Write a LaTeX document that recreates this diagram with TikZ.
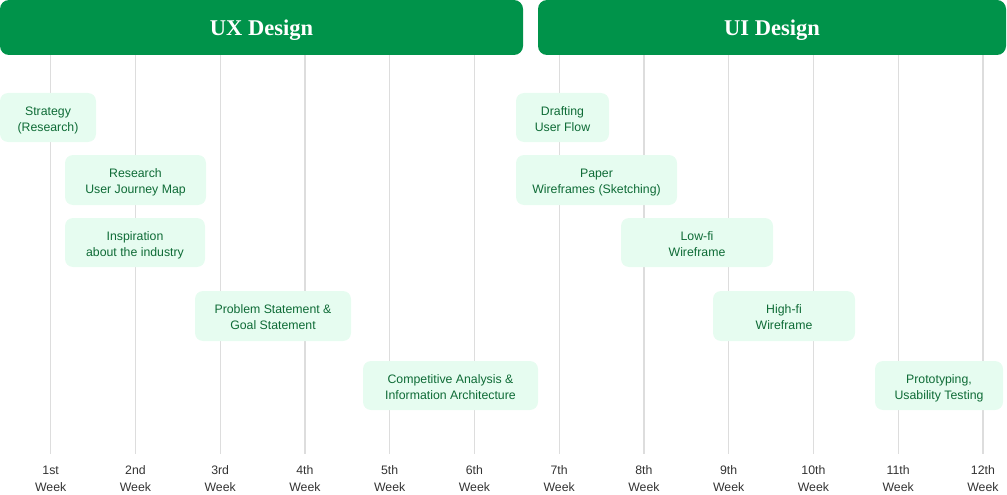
\documentclass[tikz,border=0pt]{standalone}
\usepackage{fontspec}
\setmainfont{Liberation Sans}
\newfontfamily\headfont{Liberation Serif}
\definecolor{hdrgreen}{HTML}{00934A}
\definecolor{boxfill}{HTML}{E6FCF0}
\definecolor{boxtext}{HTML}{0E6B36}
\definecolor{gridgrey}{HTML}{DDDDDD}
\definecolor{weektext}{HTML}{333333}
\newcommand{\tbtext}[1]{\raisebox{-2.5pt}[\height][\depth]{\begin{tabular}{@{}c@{}}#1\end{tabular}}}
\tikzset{
  header/.style={fill=hdrgreen, rounded corners=9pt, text=white, font=\headfont\bfseries\fontsize{22.5}{26}\selectfont, inner sep=0pt, text height=15.5pt, text depth=0pt},
  taskbox/.style={fill=boxfill, rounded corners=8pt, text=boxtext, font=\fontsize{12.3}{16}\selectfont, inner sep=0pt},
  gridline/.style={draw=gridgrey, line width=1.2pt},
  weeklabel/.style={text=weektext, align=center, font=\fontsize{12.3}{17}\selectfont, inner sep=0pt}
}
\begin{document}
\begin{tikzpicture}[x=1pt,y=-1pt]
\useasboundingbox (0,0) rectangle (1007,495);
% grid lines and week labels
\foreach \i/\lab in {1/1st,2/2nd,3/3rd,4/4th,5/5th,6/6th,7/7th,8/8th,9/9th,10/10th,11/11th,12/12th}{
  \pgfmathsetmacro{\xx}{50.7+84.75*(\i-1)}
  \coordinate (top\i) at (\xx,55);
  \coordinate (bot\i) at (\xx,454);
  \draw[gridline] (top\i) -- (bot\i);
  \node[weeklabel] (wk\i) at (\xx,478.5) {\lab\\Week};
}
% headers
\node[header, minimum width=523pt, minimum height=55pt] (ux) at (261.5,27.5) {UX Design};
\node[header, minimum width=468pt, minimum height=55pt] (ui) at (772,27.5) {UI Design};
% UX tasks
\node[taskbox, minimum width=96pt, minimum height=49pt] (t1) at (48,117.5) {\tbtext{Strategy\\(Research)}};
\node[taskbox, minimum width=141pt, minimum height=50pt] (t2) at (135.5,180) {\tbtext{Research\\User Journey Map}};
\node[taskbox, minimum width=140pt, minimum height=49pt] (t3) at (135,242.5) {\tbtext{Inspiration\\about the industry}};
\node[taskbox, minimum width=156pt, minimum height=50pt] (t4) at (273,316) {\tbtext{Problem Statement \&\\Goal Statement}};
\node[taskbox, minimum width=175pt, minimum height=49pt] (t5) at (450.5,385.5) {\tbtext{Competitive Analysis \&\\Information Architecture}};
% UI tasks
\node[taskbox, minimum width=93pt, minimum height=49pt] (t6) at (562.5,117.5) {\tbtext{Drafting\\User Flow}};
\node[taskbox, minimum width=161pt, minimum height=50pt] (t7) at (596.5,180) {\tbtext{Paper\\Wireframes (Sketching)}};
\node[taskbox, minimum width=152pt, minimum height=49pt] (t8) at (697,242.5) {\tbtext{Low-fi\\Wireframe}};
\node[taskbox, minimum width=142pt, minimum height=50pt] (t9) at (784,316) {\tbtext{High-fi\\Wireframe}};
\node[taskbox, minimum width=128pt, minimum height=49pt] (t10) at (939,385.5) {\tbtext{Prototyping,\\Usability Testing}};
\end{tikzpicture}
\end{document}
